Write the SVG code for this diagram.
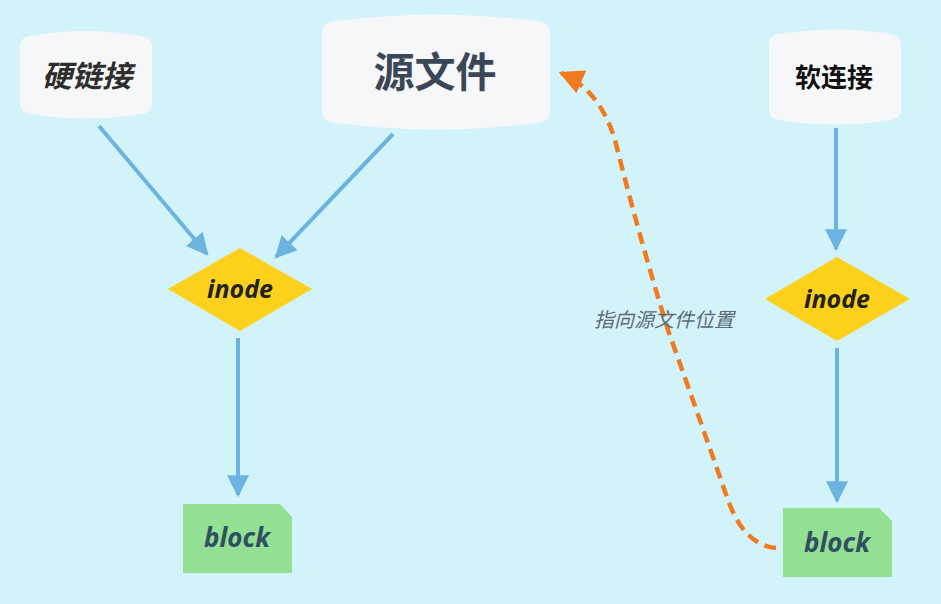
<svg xmlns="http://www.w3.org/2000/svg" width="941" height="604" viewBox="0 0 941 604">
<defs>
<style>
.bubble{fill:#f6f7f9}
.dia{fill:#fdd01b}
.blk{fill:#93df93}
.cn{font-family:"Noto Sans CJK SC","Noto Sans",sans-serif;font-weight:bold;text-anchor:middle}
.en{font-family:"Noto Sans","Open Sans",sans-serif;font-weight:bold;font-style:italic;text-anchor:middle}
.lbl{font-family:"Noto Sans CJK SC","Noto Sans",sans-serif;font-style:italic;text-anchor:middle}
.edge{stroke:#6db3e0;stroke-width:4;fill:none}
</style>
<marker id="ab" viewBox="0 0 10 10" refX="9" refY="5" markerWidth="5.5" markerHeight="5.5" markerUnits="strokeWidth" orient="auto">
<path d="M0,0 L10,5 L0,10 Z" fill="#6db3e0"/>
</marker>
<marker id="ao" viewBox="0 0 10 10" refX="9" refY="5" markerWidth="5.5" markerHeight="5.5" markerUnits="strokeWidth" orient="auto">
<path d="M0,0 L10,5 L0,10 Z" fill="#f07a1e"/>
</marker>
</defs>
<rect width="941" height="604" fill="#d3f3fb"/>
<g id="hardlink">
<path class="bubble" d="M20,46 Q20,37 31,36 Q86,26 141,36 Q152,37 152,46 L152,104 Q152,113 141,114 Q86,123 31,114 Q20,113 20,104 Z"/>
<text class="cn" x="87" y="87" font-size="30" font-style="italic" fill="#2e2e2e">硬链接</text>
</g>
<g id="source">
<path class="bubble" d="M322,32 Q322,22 336,21 Q436,8 536,21 Q550,22 550,32 L550,112 Q550,122 536,123 Q436,136 336,123 Q322,122 322,112 Z"/>
<text class="cn" x="435" y="87" font-size="41" fill="#3b4757">源文件</text>
</g>
<g id="softlink">
<path class="bubble" d="M769,44 Q769,35 780,34 Q835,25 890,34 Q901,35 901,44 L901,110 Q901,119 890,120 Q835,129 780,120 Q769,119 769,110 Z"/>
<text class="cn" x="834" y="87" font-size="26" fill="#111">软连接</text>
</g>
<g id="inode1">
<path class="dia" d="M240,248 L312,289 L240,331 L168,289 Z"/>
<text class="en" x="240" y="298" font-size="25" fill="#222">inode</text>
</g>
<g id="inode2">
<path class="dia" d="M837,257 L910,299 L837,341 L765,299 Z"/>
<text class="en" x="837" y="308" font-size="25" fill="#222">inode</text>
</g>
<g id="block1">
<path class="blk" d="M183,504 L280,504 L292,517 L292,573 L183,573 Z"/>
<text class="en" x="237" y="547" font-size="26" fill="#2e5060">block</text>
</g>
<g id="block2">
<path class="blk" d="M783,508 L879,508 L892,521 L892,577 L783,577 Z"/>
<text class="en" x="837" y="552" font-size="26" fill="#2e5060">block</text>
</g>
<g id="connectors">
<line class="edge" x1="99" y1="126" x2="207" y2="254" marker-end="url(#ab)"/>
<line class="edge" x1="393" y1="134" x2="276" y2="257" marker-end="url(#ab)"/>
<line class="edge" x1="238" y1="338" x2="238" y2="495" marker-end="url(#ab)"/>
<line class="edge" x1="836" y1="128" x2="836" y2="249" marker-end="url(#ab)"/>
<line class="edge" x1="837" y1="348" x2="837" y2="501" marker-end="url(#ab)"/>
<path d="M776,548 Q744,545 728,500 Q700,420 668,330 Q640,240 615,140 Q600,90 561,73" fill="none" stroke="#f07a1e" stroke-width="4.5" stroke-dasharray="12,7" marker-end="url(#ao)"/>
<text class="lbl" x="664" y="327" font-size="20" fill="#5d6b78">指向源文件位置</text>
</g>
</svg>
